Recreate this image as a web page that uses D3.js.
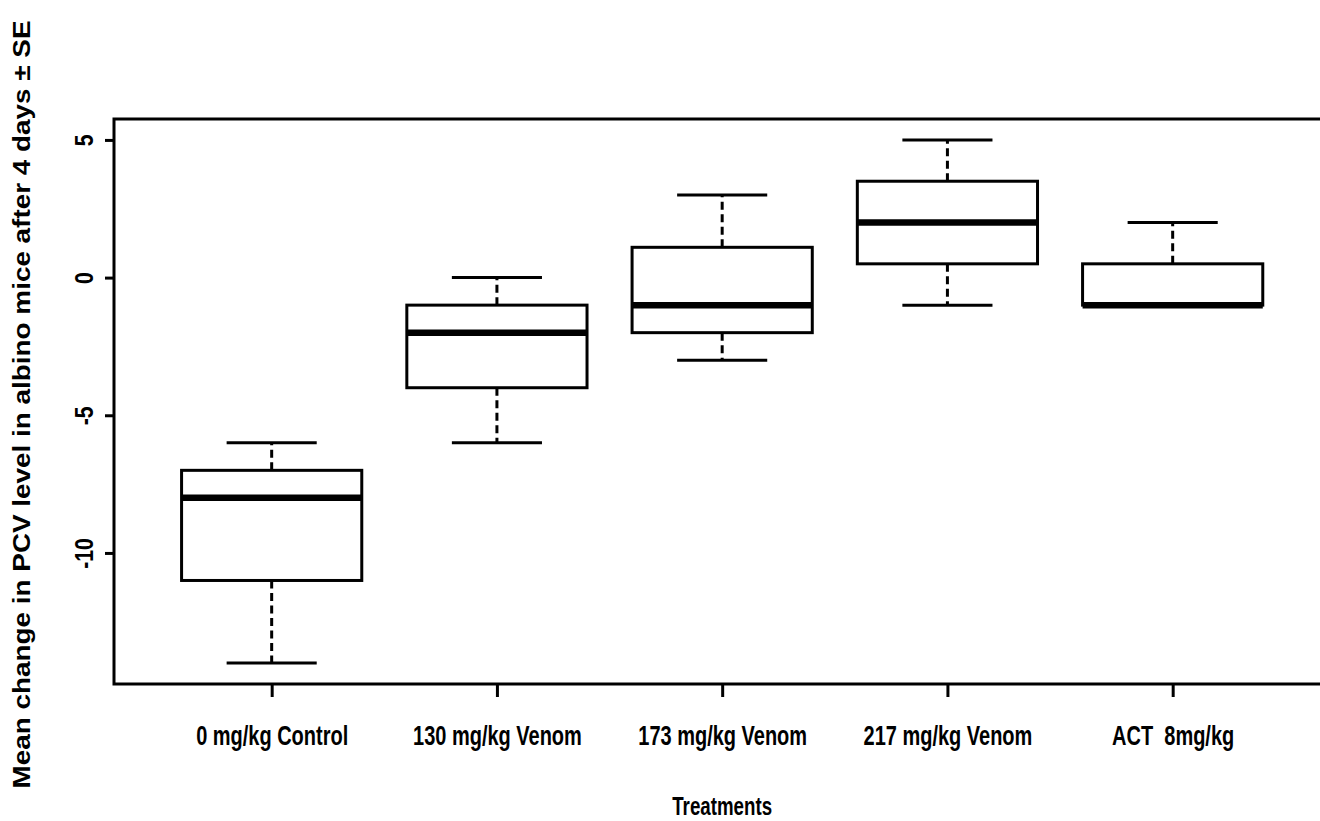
<!DOCTYPE html>
<html lang="en">
<head>
	<meta charset="utf-8">
	<title>Change in PCV level boxplot</title>
	<script type="text/javascript" src="https://d3js.org/d3.v7.min.js"></script>
	<style type="text/css">
		body { margin: 0; background: #fff; }
		svg { display: block; }
		text { font-family: "Liberation Sans", Arial, sans-serif; font-weight: bold; fill: #000; white-space: pre; }
	</style>
</head>
<body>
	<script type="text/javascript">
		// data (one entry per treatment)
		var categories = ["0 mg/kg Control", "130 mg/kg Venom", "173 mg/kg Venom", "217 mg/kg Venom", "ACT  8mg/kg"];
		var whiskerLow = [-14, -6, -3, -1, -1];
		var q1 = [-11, -4, -2, 0.5, -1];
		var median = [-8, -2, -1, 2, -1];
		var q3 = [-7, -1, 1.1, 3.5, 0.5];
		var whiskerHigh = [-6, 0, 3, 5, 2];
		var yTicks = [-10, -5, 0, 5];
		var xTitle = "Treatments";
		var yTitle = "Mean change in PCV level in albino mice after 4 days \u00b1 SE";

		var w = 1320;
		var h = 821;
		// plot region edges (note: "top" is taken by window.top)
		var plotLeft = 114, plotTop = 119, plotBottom = 684;

		var boxes = categories.map(function(c, i) {
			return { name: c, pos: i + 1, lo: whiskerLow[i], q1: q1[i], med: median[i], q3: q3[i], hi: whiskerHigh[i] };
		});

		var svg = d3.select("body")
			.append("svg")
			.attr("width", w)
			.attr("height", h);

		// R style ranges: positions 0.5..n+0.5 and data range, each extended 4%
		var x = d3.scaleLinear()
			.domain([0.3, categories.length + 0.7])
			.range([plotLeft, plotLeft + 5.4 * 225.25]);
		var y = d3.scaleLinear()
			.domain([-14.76, 5.76])
			.range([plotBottom, plotTop]);

		// squeeze a text to a fraction of its natural width (the original font is narrow)
		function narrow(sel, k) {
			sel.each(function() {
				var len = this.getComputedTextLength();
				d3.select(this).attr("textLength", len * k).attr("lengthAdjust", "spacingAndGlyphs");
			});
		}

		// plot frame (right side runs off the page, as in the picture)
		svg.append("rect")
			.attr("x", x.range()[0])
			.attr("y", y.range()[1])
			.attr("width", x.range()[1] - x.range()[0])
			.attr("height", y.range()[0] - y.range()[1])
			.attr("fill", "none")
			.attr("stroke", "#000")
			.attr("stroke-width", 3);

		// y axis
		var yAxis = svg.append("g")
			.attr("transform", "translate(" + plotLeft + ",0)")
			.call(d3.axisLeft(y).tickValues(yTicks).tickSize(9).tickFormat(function(d) { return d < 0 ? "-" + Math.abs(d) : d; }));
		yAxis.select(".domain").remove();
		yAxis.selectAll(".tick line").attr("stroke", "#000").attr("stroke-width", 3);
		yAxis.selectAll(".tick text")
			.attr("x", null).attr("dy", null)
			.attr("transform", "translate(-21,0) rotate(-90)")
			.attr("text-anchor", "middle")
			.attr("font-size", 25)
			.attr("font-family", null)
			.call(narrow, 0.85);

		// x axis
		var xAxis = svg.append("g")
			.attr("transform", "translate(0," + plotBottom + ")")
			.call(d3.axisBottom(x).tickValues(boxes.map(function(d) { return d.pos; })).tickSize(13)
				.tickFormat(function(d) { return categories[d - 1]; }));
		xAxis.select(".domain").remove();
		xAxis.selectAll(".tick line").attr("stroke", "#000").attr("stroke-width", 3);
		xAxis.selectAll(".tick text")
			.attr("y", 61).attr("dy", null)
			.attr("font-size", 27)
			.attr("font-family", null)
			.call(narrow, 0.74);

		var g = svg.append("g");
		var half = (x(1.4) - x(1));
		var cap = (x(1.2) - x(1));

		// whiskers (dashed)
		g.selectAll(".whisk-hi")
			.data(boxes.filter(function(d) { return d.hi > d.q3; }))
			.enter().append("line")
			.attr("x1", function(d) { return x(d.pos); })
			.attr("x2", function(d) { return x(d.pos); })
			.attr("y1", function(d) { return y(d.q3); })
			.attr("y2", function(d) { return y(d.hi); })
			.attr("stroke", "#000").attr("stroke-width", 3).attr("stroke-dasharray", "8,4.5");
		g.selectAll(".whisk-lo")
			.data(boxes.filter(function(d) { return d.lo < d.q1; }))
			.enter().append("line")
			.attr("x1", function(d) { return x(d.pos); })
			.attr("x2", function(d) { return x(d.pos); })
			.attr("y1", function(d) { return y(d.q1); })
			.attr("y2", function(d) { return y(d.lo); })
			.attr("stroke", "#000").attr("stroke-width", 3).attr("stroke-dasharray", "8,4.5");

		// staples
		g.selectAll(".cap-hi")
			.data(boxes)
			.enter().append("line")
			.attr("x1", function(d) { return x(d.pos) - cap; })
			.attr("x2", function(d) { return x(d.pos) + cap; })
			.attr("y1", function(d) { return y(d.hi); })
			.attr("y2", function(d) { return y(d.hi); })
			.attr("stroke", "#000").attr("stroke-width", 3);
		g.selectAll(".cap-lo")
			.data(boxes.filter(function(d) { return d.lo < d.q1; }))
			.enter().append("line")
			.attr("x1", function(d) { return x(d.pos) - cap; })
			.attr("x2", function(d) { return x(d.pos) + cap; })
			.attr("y1", function(d) { return y(d.lo); })
			.attr("y2", function(d) { return y(d.lo); })
			.attr("stroke", "#000").attr("stroke-width", 3);

		// boxes
		g.selectAll(".box")
			.data(boxes)
			.enter().append("rect")
			.attr("x", function(d) { return x(d.pos) - half; })
			.attr("y", function(d) { return y(d.q3); })
			.attr("width", half * 2)
			.attr("height", function(d) { return y(d.q1) - y(d.q3); })
			.attr("fill", "#fff")
			.attr("stroke", "#000")
			.attr("stroke-width", 3);

		// medians
		g.selectAll(".med")
			.data(boxes)
			.enter().append("line")
			.attr("x1", function(d) { return x(d.pos) - half; })
			.attr("x2", function(d) { return x(d.pos) + half; })
			.attr("y1", function(d) { return y(d.med); })
			.attr("y2", function(d) { return y(d.med); })
			.attr("stroke", "#000").attr("stroke-width", 6.5);

		// axis titles
		svg.append("text")
			.attr("x", x(3))
			.attr("y", 815)
			.attr("text-anchor", "middle")
			.attr("font-size", 26)
			.text(xTitle)
			.call(narrow, 0.72);

		svg.append("text")
			.attr("transform", "translate(30," + ((plotTop + plotBottom) / 2 + 3) + ") rotate(-90)")
			.attr("text-anchor", "middle")
			.attr("font-size", 24)
			.attr("textLength", 768)
			.attr("lengthAdjust", "spacingAndGlyphs")
			.text(yTitle);
	</script>
</body>
</html>
